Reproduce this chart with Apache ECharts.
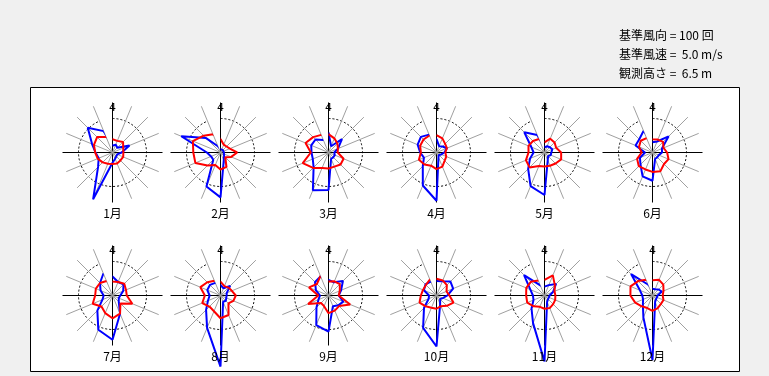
<!DOCTYPE html>
<html><head><meta charset="utf-8">
<script src="https://cdn.jsdelivr.net/npm/echarts@6/dist/echarts.min.js"></script>
<style>html,body{margin:0;padding:0;background:#f0f0f0}#c{width:769px;height:376px}</style>
</head><body><div id="c"></div>
<script>
const directions = ['N','NNE','NE','ENE','E','ESE','SE','SSE','S','SSW','SW','WSW','W','WNW','NW','NNW'];
const months = ['1月','2月','3月','4月','5月','6月','7月','8月','9月','10月','11月','12月'];
const northLabel = '4';
const infoLines = ['基準風向 = 100 回','基準風速 =  5.0 m/s','観測高さ =  6.5 m'];
// blue: direction frequency, red: mean wind speed (units: reference circle = 10)
const freq01 = [2,2.5,2,5.4,2.7,1.5,1.5,2,3,14.9,6,4.4,5,6.5,10.3,6.8];
const freq02 = [1,1,1,1,1,1,1.5,2.5,13.2,10.8,3,3,4,12.5,6,2];
const freq03 = [5.9,2,5.6,3,1.7,2,2,2,11,12,6.2,5,5,5.5,5.4,4];
const freq04 = [4,2,2.5,3.3,2.3,1.5,1,1.5,14.2,10.5,5.7,4,4.8,6,6.5,5.7];
const freq05 = [1.5,2,2.2,2.5,2,2,1.5,1.5,12.5,10.7,6.8,4.6,3.2,4.2,8.4,5.6];
const freq06 = [3,3.5,6.7,3,2.8,2,2,2,8.3,7.6,5,4,2.2,5.4,5.5,6.9];
const freq07 = [5.6,4.3,4.6,3.4,2.3,2,2.6,5.8,13,10.9,6.3,3.2,2.6,3.8,5.2,7];
const freq08 = [3.1,2.3,4,2,1.8,1.5,2.2,2,20.9,10.3,6,4,3.2,4.2,4.4,4];
const freq09 = [4.6,4.2,6,4,3,4.7,4.1,3.4,10.6,9.4,5,3.2,2.5,4,5.6,6.1];
const freq10 = [4.3,4.5,5.8,5.3,3.2,2,1.5,2.8,15,10.3,5.2,2.5,2.2,4,4.6,4.4];
const freq11 = [2.6,3.3,4.8,2.7,1.5,1.5,1.5,2,19.4,8.8,5.4,3.5,3.4,4.5,8.5,3.2];
const freq12 = [2,2,2.5,3,1.5,1.5,1.5,2,19,7,4,3,3,4,8.9,3.5];
const speed01 = [3.9,3.7,4.4,3.4,3.2,3.4,3.3,3.5,3.4,3.6,4.1,4.7,5.1,5.9,6.4,4.9];
const speed02 = [4,2.5,2.5,3,4.9,3.4,2,4.6,5,4,5.4,8,8,8.8,7,5.8];
const speed03 = [5.4,4.5,3.7,3,2.7,4.8,5,4.5,4.7,4.9,6.4,8.2,5.2,7.3,6.4,5.6];
const speed04 = [5.1,4.5,3.6,3.3,2.6,3.1,3.4,4.5,4.9,4.2,5,5.6,4.6,5.2,5.4,5.4];
const speed05 = [3,4.4,4.2,3.7,4.9,5.3,4.6,4.2,4.1,4.3,6.2,5.9,4.7,5.1,4.8,4.3];
const speed06 = [3.9,4.1,4.4,3.5,4.3,5.1,4.8,6,5.7,5.4,5.7,4.9,3.2,4.3,4.9,4.6];
const speed07 = [4.1,4.3,4.9,4.3,4.2,6.3,3.3,5.8,6.7,5.6,4.6,6.3,5.1,5.3,5.2,4.6];
const speed08 = [4.1,3,3.3,3.6,4.5,4.1,3.3,6.2,6.7,5,4.6,5.8,4.6,6.4,5.5,4.7];
const speed09 = [4.1,4.5,4.7,3.6,3,6.9,4.4,4.8,5.2,3.4,3.1,6.5,3,6.2,4.8,6.2];
const speed10 = [4.9,4.8,4.3,3.2,3.8,5.4,4.3,3.4,3.9,3.9,4.5,5.4,4.6,4.3,4.4,5.1];
const speed11 = [4.6,6.4,4.3,3.2,3.2,3.4,3.6,4,3.9,3.6,4.5,5.5,5.4,5.8,5.7,4.8];
const speed12 = [4.5,5,4.5,3.5,3,3.5,3.5,4,4.5,4,4.5,5.5,6.5,7,6,5];
const freqs = [freq01,freq02,freq03,freq04,freq05,freq06,freq07,freq08,freq09,freq10,freq11,freq12];
const speeds = [speed01,speed02,speed03,speed04,speed05,speed06,speed07,speed08,speed09,speed10,speed11,speed12];

const colX = [112.5,220.5,328.5,436.5,544.5,652.5];
const rowY = [152.5,295.5];
const R = 50, refValue = 10, refPx = 34;
const rMax = refValue * R / refPx;      // axis frame extent
const dataMax = 25;                      // data frame extent (values may exceed the frame)
const Rd = refPx * dataMax / refValue;

const polar = [], angleAxis = [], radiusAxis = [], series = [], graphics = [];
graphics.push({type:'rect', z:-100, shape:{x:30.5,y:87.5,width:709,height:284}, style:{fill:'#fff',stroke:'#000',lineWidth:1}});
infoLines.forEach((t,i)=>graphics.push({type:'text', x:619, y:35+19*i, style:{text:t, font:'12px "Noto Sans CJK JP"', fill:'#000', textVerticalAlign:'middle'}}));
function toPts(arr){ const p = arr.map((v,k)=>[v,k]); p.push([arr[0],0]); return p; }
const hidden = {axisLine:{show:false}, axisTick:{show:false}, axisLabel:{show:false}};
months.forEach((m,i)=>{
  const cx = colX[i%6], cy = rowY[Math.floor(i/6)];
  const a = 2*i, d = 2*i+1;
  // frame polar (spokes + reference circle)
  polar.push({center:[cx,cy], radius:R});
  angleAxis.push(Object.assign({polarIndex:a, type:'category', data:directions, boundaryGap:false, startAngle:90, clockwise:true,
    splitLine:{show:true, lineStyle:{color:['#000','#a0a0a0','#a0a0a0','#a0a0a0'], width:1}}}, hidden));
  radiusAxis.push(Object.assign({polarIndex:a, type:'value', min:0, max:rMax, interval:10, splitArea:{show:false},
    splitLine:{show:true, lineStyle:{color:['rgba(0,0,0,0)','#000','rgba(0,0,0,0)'], width:1, type:[2,2]}}}, hidden));
  // data polar
  polar.push({center:[cx,cy], radius:Rd});
  angleAxis.push(Object.assign({polarIndex:d, type:'category', data:directions, boundaryGap:false, startAngle:90, clockwise:true,
    splitLine:{show:false}}, hidden));
  radiusAxis.push(Object.assign({polarIndex:d, type:'value', min:0, max:dataMax, splitLine:{show:false}, splitArea:{show:false}}, hidden));
  series.push({type:'line', coordinateSystem:'polar', polarIndex:d, data:toPts(freqs[i]), symbol:'none', clip:false,
    lineStyle:{color:'#0000ff', width:2}, silent:true, z:3});
  series.push({type:'line', coordinateSystem:'polar', polarIndex:d, data:toPts(speeds[i]), symbol:'none', clip:false,
    lineStyle:{color:'#ff0000', width:2}, silent:true, z:4});
  graphics.push({type:'text', x:cx, y:cy-44, z:10, style:{text:northLabel, font:'11px "DejaVu Sans"', fill:'#000', textAlign:'center', textVerticalAlign:'middle'}});
  graphics.push({type:'text', x:cx, y:cy+61, z:10, style:{text:m, font:'12px "Noto Sans CJK JP"', fill:'#000', textAlign:'center', textVerticalAlign:'middle'}});
});
const chart = echarts.init(document.getElementById('c'), null, {renderer:'canvas'});
chart.setOption({backgroundColor:'#f0f0f0', animation:false, polar, angleAxis, radiusAxis, series, graphic:graphics});
</script></body></html>
